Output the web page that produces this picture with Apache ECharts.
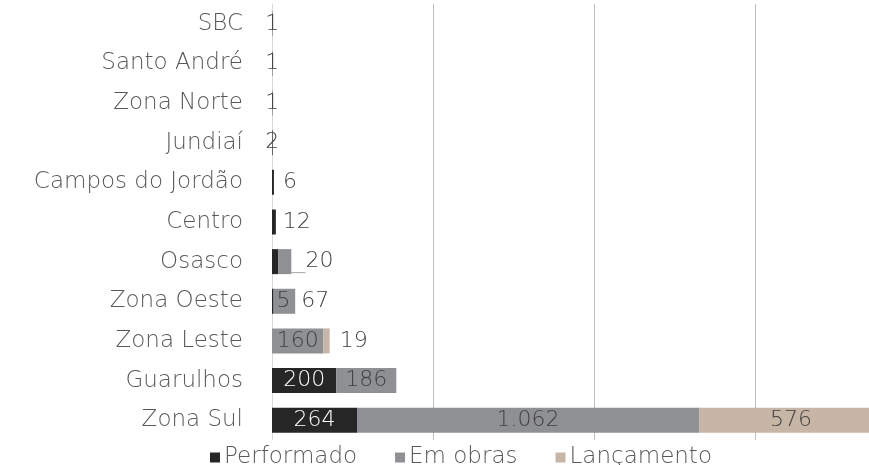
<!DOCTYPE html>
<html><head><meta charset="utf-8">
<script src="https://cdn.jsdelivr.net/npm/echarts@6/dist/echarts.min.js"></script>
<style>html,body{margin:0;padding:0;background:#fff}#c{width:869px;height:465px}</style>
</head><body><div id="c"></div>
<script>
const categories = ['SBC','Santo André','Zona Norte','Jundiaí','Campos do Jordão','Centro','Osasco','Zona Oeste','Zona Leste','Guarulhos','Zona Sul'];
const performado = [1,1,1,2,6,12,20,5,0,200,264];
const emObras    = [0,0,0,0,0,0,40,67,160,186,1062];
const lancamento = [0,0,0,0,0,0,0,0,19,0,576];
const seriesNames = ['Performado','Em obras','Lançamento'];

const FONT = 'DejaVu Sans';
const colors = ['#262626','#8f9094','#c7b5a5'];

// label placement per series / category index (style only)
const labelStyle = {
  0: {0:{position:'inside'},1:{position:'inside'},2:{position:'inside'},3:{position:'inside'},
      4:{position:'right',distance:9},5:{position:'right',distance:7},6:{position:'right',distance:27},
      7:{position:'right',distance:3},9:{position:'inside',color:'#fff'},10:{position:'inside',color:'#fff'}},
  1: {7:{position:'right',distance:6},8:{position:'inside'},9:{position:'inside'},10:{position:'inside'}},
  2: {8:{position:'right',distance:10},10:{position:'inside',offset:[7,0]}}
};
const leaderLine = {0:{6:true}};
const fmt = v => v.toLocaleString('de-DE');

function buildData(arr, si){
  return arr.map((v,i)=>{
    const ls = labelStyle[si][i];
    const hasLine = leaderLine[si] && leaderLine[si][i];
    if (!v || !ls) return {value: v, label:{show:false}, labelLine:{show:false}};
    return {value: v, label: Object.assign({show:true}, ls),
      labelLine: {show: !!hasLine, lineStyle:{color:'#a6a6a6', width:1}}};
  });
}

const chart = echarts.init(document.getElementById('c'), null, {renderer:'canvas'});
chart.setOption({
  animation:false,
  textStyle:{fontFamily:FONT},
  grid:{left:272, right:0, top:4, bottom:25, containLabel:false},
  xAxis:{type:'value', min:0, max:1854, interval:500,
    axisLabel:{show:false}, axisLine:{show:false}, axisTick:{show:false},
    splitLine:{show:true, showMaxLine:false, lineStyle:{color:'#bfbfbf', width:1}}},
  yAxis:{type:'category', data:categories, inverse:true,
    axisLine:{show:true, lineStyle:{color:'#d9d9d9', width:1}}, axisTick:{show:false},
    axisLabel:{margin:29, color:'#595959', fontSize:23, fontFamily:FONT, fontWeight:200}},
  legend:{top:441, left:205, itemWidth:10, itemHeight:10, itemGap:38,
    icon:'rect', textStyle:{color:'#595959', fontSize:23, fontFamily:FONT, fontWeight:200, padding:[0,0,0,-1]},
    data:seriesNames},
  series:[performado, emObras, lancamento].map((arr,si)=>({
    name: seriesNames[si], type:'bar', stack:'total', barWidth:25, clip:true,
    itemStyle:{color:colors[si]},
    label:{show:true, color:'#404040', fontSize:22, fontFamily:FONT, fontWeight:200,
      formatter: p => fmt(p.value)},
    data: buildData(arr, si)
  }))
});
</script></body></html>
